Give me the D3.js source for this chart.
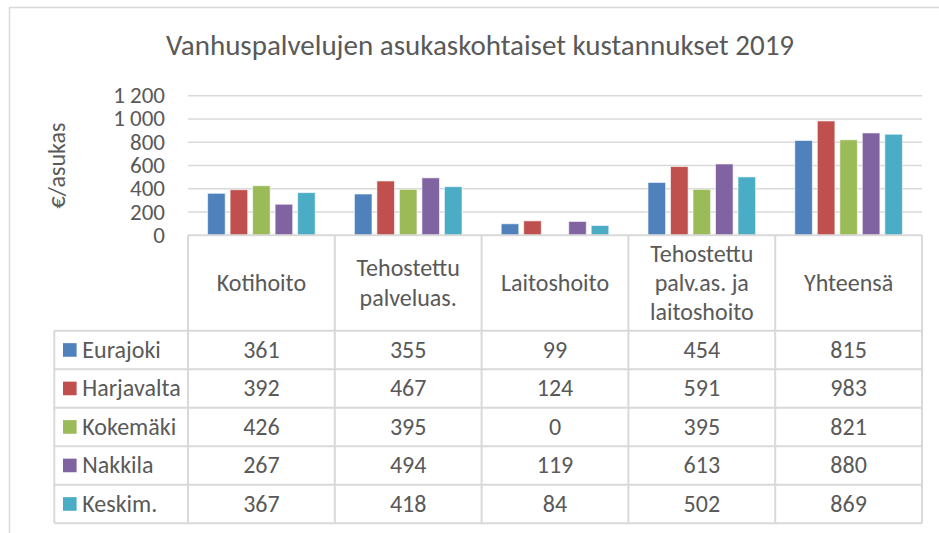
<!DOCTYPE html>
<html><head><meta charset="utf-8">
<script src="https://cdn.jsdelivr.net/npm/d3@7"></script>
<style>body{margin:0;background:#fff} text{font-family:Carlito,Lato,sans-serif;fill:#595959}</style>
</head><body><svg id="c" width="939" height="533"></svg>
<script>
// ---- data ----
const title = "Vanhuspalvelujen asukaskohtaiset kustannukset 2019";
const yTitle = "€/asukas";
const categories = [["Kotihoito"], ["Tehostettu", "palveluas."], ["Laitoshoito"], ["Tehostettu", "palv.as. ja", "laitoshoito"], ["Yhteensä"]];
const series = ["Eurajoki", "Harjavalta", "Kokemäki", "Nakkila", "Keskim."];
const eurajoki   = [361, 355, 99, 454, 815];
const harjavalta = [392, 467, 124, 591, 983];
const kokemaki   = [426, 395, 0, 395, 821];
const nakkila    = [267, 494, 119, 613, 880];
const keskim     = [367, 418, 84, 502, 869];
const values = [eurajoki, harjavalta, kokemaki, nakkila, keskim];
const yTicks = [0, 200, 400, 600, 800, 1000, 1200];
const colors = ["#4F81BD", "#C0504D", "#9BBB59", "#8064A2", "#4BACC6"];

// ---- layout ----
const svg = d3.select("#c");
const grid = "#D9D9D9";
const L = 188, R = 922, plotTop = 95.7, base = 235.3;
const headBottom = 330.7, rowH = 38.5, legendLeft = 54.3;
const fmt = v => d3.format(",")(v).replace(/,/g, " ");

// chart border
svg.append("path").attr("d", "M9.5,540V7.5H945").attr("fill", "none").attr("stroke", grid).attr("stroke-width", 1.5);

svg.append("text").attr("x", 480).attr("y", 55).attr("text-anchor", "middle")
  .style("font-size", "29px").text(title);

const y = d3.scaleLinear().domain([0, 1200]).range([base, plotTop]);
const catIdx = d3.range(categories.length);
const x0 = d3.scaleBand().domain(catIdx).range([L, R]);
const bw = x0.bandwidth();
const x1 = d3.scaleBand().domain(d3.range(series.length))
  .range([bw * 0.1335, bw * (0.1335 + 0.733)]).paddingInner(0.218);

// gridlines
svg.append("g").selectAll("line").data(yTicks.filter(d => d > 0)).join("line")
  .attr("x1", L).attr("x2", R).attr("y1", d => y(d)).attr("y2", d => y(d))
  .attr("stroke", grid).attr("stroke-width", 1.5);

// tick labels
svg.append("g").selectAll("text").data(yTicks).join("text")
  .attr("x", 165).attr("y", d => y(d) + 7.5).attr("text-anchor", "end")
  .style("font-size", "23px").text(fmt);

svg.append("text").attr("transform", "translate(65,165.5) rotate(-90)")
  .attr("text-anchor", "middle").style("font-size", "24px").text(yTitle);

// bars
const bars = svg.append("g");
values.forEach((vals, si) => {
  bars.selectAll(null).data(vals).join("rect")
    .attr("x", (d, ci) => x0(ci) + x1(si))
    .attr("width", x1.bandwidth())
    .attr("y", d => y(d))
    .attr("height", d => base - y(d))
    .attr("fill", colors[si])
    .attr("stroke", d => d > 0 ? "rgba(255,255,255,0.6)" : "none").attr("stroke-width", 1);
});

// data table lines
const tbl = svg.append("g").attr("stroke", grid).attr("stroke-width", 2);
const tableBottom = headBottom + rowH * series.length;
tbl.append("line").attr("x1", L).attr("x2", R).attr("y1", base).attr("y2", base);
d3.range(series.length + 1).forEach(i => {
  tbl.append("line").attr("x1", legendLeft).attr("x2", R)
    .attr("y1", headBottom + i * rowH).attr("y2", headBottom + i * rowH);
});
catIdx.concat([categories.length]).forEach(i => {
  const xx = i < categories.length ? x0(i) : R;
  tbl.append("line").attr("x1", xx).attr("x2", xx).attr("y1", base).attr("y2", tableBottom);
});
tbl.append("line").attr("x1", legendLeft).attr("x2", legendLeft).attr("y1", headBottom).attr("y2", tableBottom);

// header labels
const lh = 29.3;
categories.forEach((lines, ci) => {
  const cy = (base + headBottom) / 2;
  lines.forEach((ln, li) => {
    svg.append("text").attr("x", x0(ci) + bw / 2)
      .attr("y", cy + (li - (lines.length - 1) / 2) * lh + 8)
      .attr("text-anchor", "middle").style("font-size", "24px").text(ln);
  });
});

// rows
series.forEach((s, si) => {
  const cy = headBottom + si * rowH + rowH / 2;
  svg.append("rect").attr("x", 63).attr("y", cy - 6.8).attr("width", 13.6).attr("height", 13.6).attr("fill", colors[si]);
  svg.append("text").attr("x", 82.3).attr("y", cy + 8).style("font-size", "24px").text(s);
  values[si].forEach((v, ci) => {
    svg.append("text").attr("x", x0(ci) + bw / 2).attr("y", cy + 8)
      .attr("text-anchor", "middle").style("font-size", "24px").text(fmt(v));
  });
});
</script></body></html>
